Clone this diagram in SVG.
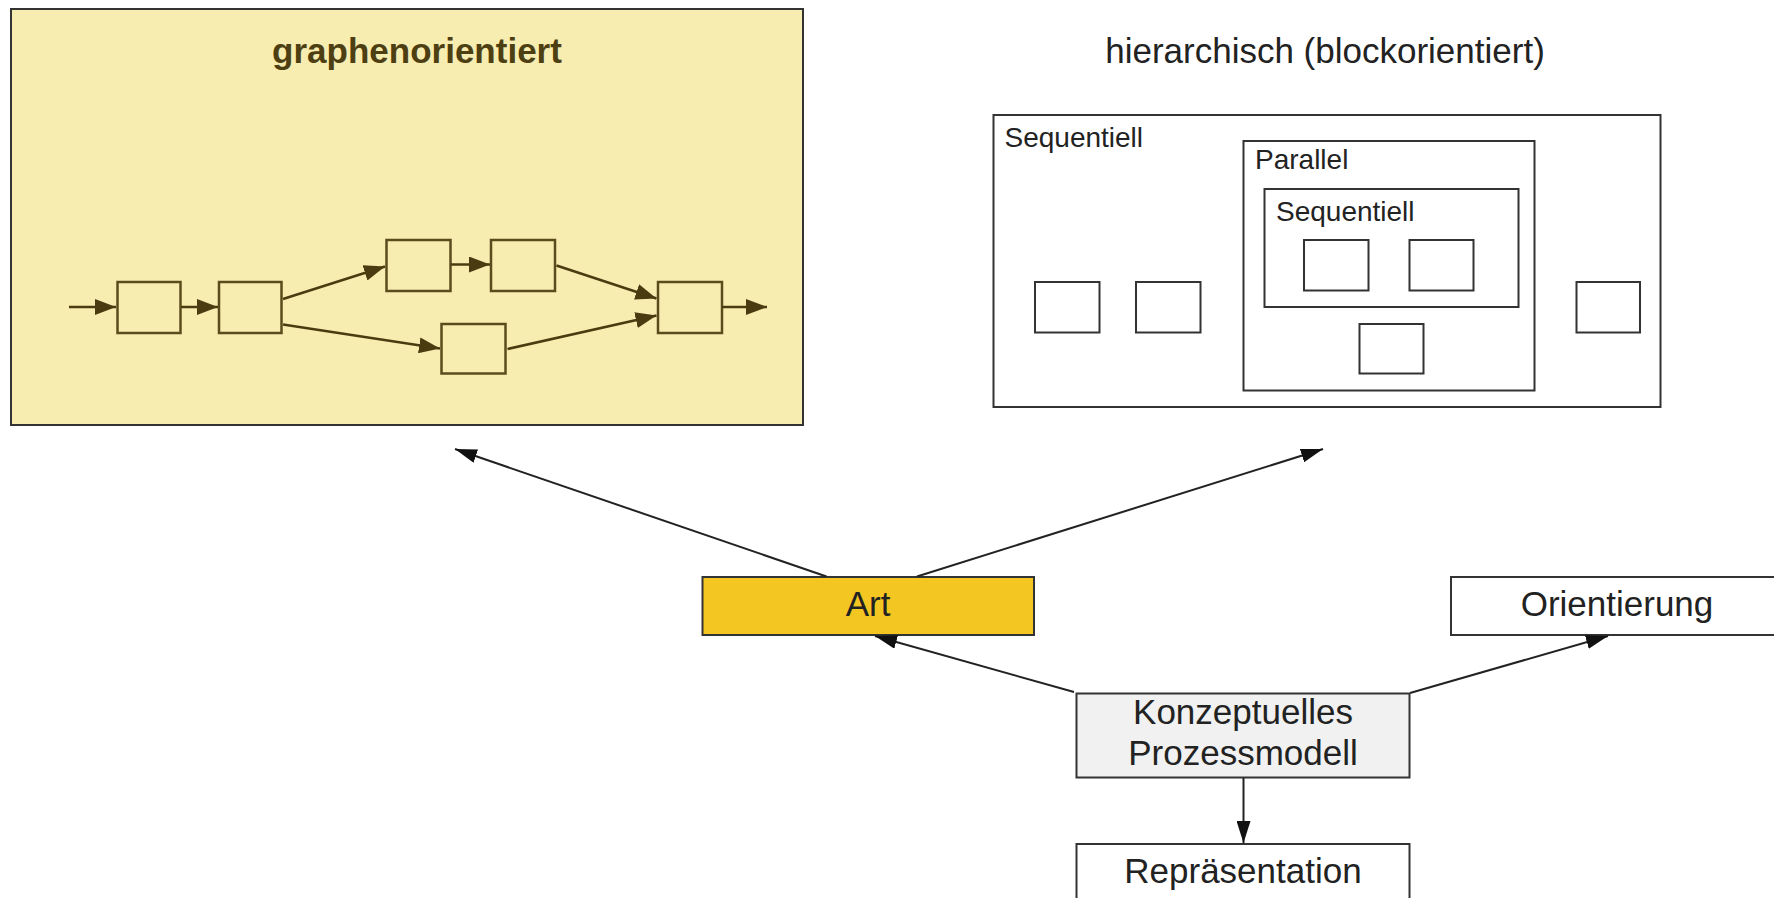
<svg xmlns="http://www.w3.org/2000/svg" width="1774" height="898" viewBox="0 0 1774 898">
<style>
  .t { font-family: "Liberation Sans", Arial, sans-serif; fill: #222; }
  .big { font-size: 35px; }
  .lbl { font-size: 28px; }
  .box { fill: #fff; stroke: #333; stroke-width: 2; }
  .gbox { fill: #f8edb1; stroke: #5a4c1c; stroke-width: 2.5; }
  .gl { stroke: #4a3c10; stroke-width: 2.5; fill: none; marker-end: url(#ga); }
  .cl { stroke: #222; stroke-width: 2; fill: none; marker-end: url(#ba); }
</style>
<defs>
  <marker id="ga" markerWidth="21" markerHeight="16" refX="21" refY="8" orient="auto" markerUnits="userSpaceOnUse">
    <path d="M0,0 L21,8 L0,16 z" fill="#4a3c10"/>
  </marker>
  <marker id="ba" markerWidth="22" markerHeight="14" refX="22" refY="7" orient="auto" markerUnits="userSpaceOnUse">
    <path d="M0,0 L22,7 L0,14 z" fill="#111"/>
  </marker>
</defs>
<rect width="1774" height="898" fill="#fff"/>

<g id="graphenorientiert">
  <rect x="11" y="9" width="792" height="416" fill="#f8edb1" stroke="#333" stroke-width="2"/>
  <text class="t big" x="417" y="63" text-anchor="middle" font-weight="bold" style="fill:#4d3f12">graphenorientiert</text>
  <rect class="gbox" x="117.5" y="282" width="63" height="51"/>
  <rect class="gbox" x="219" y="282" width="62.5" height="51"/>
  <rect class="gbox" x="386.5" y="240" width="64" height="51"/>
  <rect class="gbox" x="491" y="240" width="64" height="51"/>
  <rect class="gbox" x="441.5" y="324" width="64" height="49.5"/>
  <rect class="gbox" x="658" y="282" width="64" height="51"/>
  <line class="gl" x1="69" y1="307" x2="116" y2="307"/>
  <line class="gl" x1="181" y1="307" x2="218" y2="307"/>
  <line class="gl" x1="451" y1="264.5" x2="490" y2="264.5"/>
  <line class="gl" x1="283" y1="299" x2="385" y2="266.5"/>
  <line class="gl" x1="283" y1="324.5" x2="440" y2="348.5"/>
  <line class="gl" x1="556.5" y1="265.5" x2="656.5" y2="298.5"/>
  <line class="gl" x1="507.5" y1="349" x2="656.5" y2="315.5"/>
  <line class="gl" x1="722" y1="307" x2="767" y2="307"/>
</g>

<g id="hierarchisch">
  <text class="t big" x="1325" y="63" text-anchor="middle">hierarchisch (blockorientiert)</text>
  <rect class="box" x="993.5" y="115" width="667" height="292"/>
  <text class="t lbl" x="1004.5" y="146.5">Sequentiell</text>
  <rect class="box" x="1035" y="282" width="64.5" height="50.5"/>
  <rect class="box" x="1136" y="282" width="64.5" height="50.5"/>
  <rect class="box" x="1576.5" y="282" width="63.5" height="50.5"/>
  <rect class="box" x="1243.5" y="141" width="291" height="249.5"/>
  <text class="t lbl" x="1255" y="168.5">Parallel</text>
  <rect class="box" x="1264.5" y="189" width="254" height="118"/>
  <text class="t lbl" x="1276" y="220.5">Sequentiell</text>
  <rect class="box" x="1304" y="240" width="64.5" height="50.5"/>
  <rect class="box" x="1409.5" y="240" width="64" height="50.5"/>
  <rect class="box" x="1359.5" y="324" width="64" height="49.5"/>
</g>

<g id="art">
  <rect x="702.5" y="577" width="331.5" height="58" fill="#f4c622" stroke="#333" stroke-width="2"/>
  <text class="t big" x="868" y="616" text-anchor="middle">Art</text>
</g>

<g id="orientierung">
  <rect class="box" x="1451" y="577" width="332" height="58"/>
  <text class="t big" x="1617" y="615.5" text-anchor="middle">Orientierung</text>
</g>

<g id="konzeptuelles-prozessmodell">
  <rect x="1076.5" y="693.5" width="333" height="84" fill="#f0f1f0" stroke="#333" stroke-width="2"/>
  <text class="t big" x="1243" y="723.5" text-anchor="middle">Konzeptuelles</text>
  <text class="t big" x="1243" y="764.5" text-anchor="middle">Prozessmodell</text>
</g>

<g id="repraesentation">
  <rect class="box" x="1076.5" y="844" width="333" height="90"/>
  <text class="t big" x="1243" y="883" text-anchor="middle">Repräsentation</text>
</g>

<g id="connectors">
  <line class="cl" x1="826.5" y1="576.5" x2="455" y2="449"/>
  <line class="cl" x1="917" y1="576.5" x2="1323" y2="449"/>
  <line class="cl" x1="1074" y1="692" x2="875" y2="636"/>
  <line class="cl" x1="1410" y1="693" x2="1608" y2="636"/>
  <line class="cl" x1="1243.5" y1="778" x2="1243.5" y2="843"/>
</g>
</svg>
